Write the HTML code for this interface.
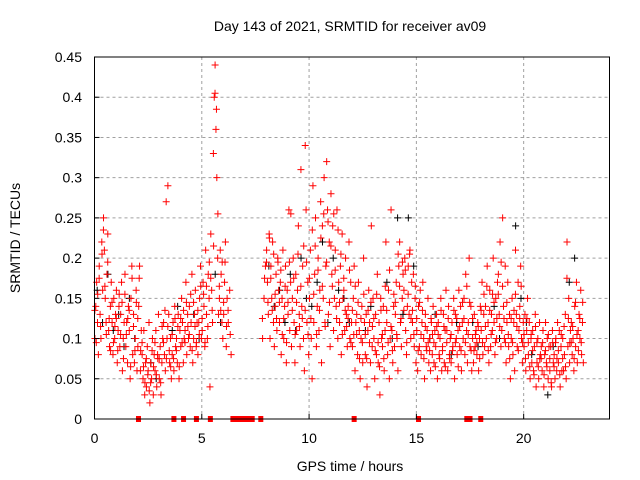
<!DOCTYPE html>
<html><head><meta charset="utf-8"><style>
body{margin:0;background:#fff}
svg{display:block;font-family:"Liberation Sans",sans-serif}
</style></head><body>
<svg id="chart" width="640" height="480" xmlns="http://www.w3.org/2000/svg">
<rect width="640" height="480" fill="#fff"/>
<g id="grid"></g>
<g id="marks"></g>
<rect x="94.5" y="57" width="515" height="362" fill="none" stroke="#000" stroke-width="1"/>
<g id="ticks"></g>
<text x="350" y="31" text-anchor="middle" font-size="14">Day 143 of 2021, SRMTID for receiver av09</text>
<text x="350" y="471" text-anchor="middle" font-size="14">GPS time / hours</text>
<text transform="translate(20,238) rotate(-90)" text-anchor="middle" font-size="14">SRMTID / TECUs</text>
</svg>
<script>
const xTicks=[0,5,10,15,20];
const yTicks=[0,0.05,0.1,0.15,0.2,0.25,0.3,0.35,0.4,0.45];
const yTickLabels=["0","0.05","0.1","0.15","0.2","0.25","0.3","0.35","0.4","0.45"];
const redBinStarts=[0,0.2,0.4,0.6,0.8,1.0,1.2,1.4,1.6,1.8,2.0,2.2,2.4,2.6,2.8,3.0,3.2,3.4,3.6,3.8,4.0,4.2,4.4,4.6,4.8,5.0,5.2,5.4,5.6,5.8,6.0,6.2,7.8,8.0,8.2,8.4,8.6,8.8,9.0,9.2,9.4,9.6,9.8,10.0,10.2,10.4,10.6,10.8,11.0,11.2,11.4,11.6,11.8,12.0,12.2,12.4,12.6,12.8,13.0,13.2,13.4,13.6,13.8,14.0,14.2,14.4,14.6,14.8,15.0,15.2,15.4,15.6,15.8,16.0,16.2,16.4,16.6,16.8,17.0,17.2,17.4,17.6,17.8,18.0,18.2,18.4,18.6,18.8,19.0,19.2,19.4,19.6,19.8,20.0,20.2,20.4,20.6,20.8,21.0,21.2,21.4,21.6,21.8,22.0,22.2,22.4,22.6];
const redBinValues=[
[.10,.14,.17,.12,.08],[.19,.13,.10,.22,.16],[.25,.21,.15,.12,.18],[.23,.11,.09,.14,.17],[.12,.08,.15,.10,.13],
[.16,.07,.11,.14,.09],[.13,.17,.06,.10,.12],[.18,.09,.12,.07,.14],[.11,.05,.15,.19,.08],[.13,.07,.10,.16,.06],
[.09,.14,.19,.06,.11],[.08,.05,.11,.03,.07],[.04,.09,.06,.12,.02],[.07,.05,.10,.03,.08],[.06,.11,.04,.08,.13],
[.05,.09,.03,.07,.10],[.12,.08,.06,.27,.10],[.29,.13,.07,.10,.05],[.08,.12,.06,.14,.09],[.10,.07,.13,.05,.11],
[.09,.15,.12,.07,.10],[.11,.17,.08,.13,.10],[.14,.09,.12,.18,.07],[.10,.13,.16,.09,.12],[.08,.12,.15,.19,.10],
[.11,.17,.14,.09,.21],[.13,.10,.18,.15,.04],[.23,.16,.12,.33,.40],[.44,.36,.30,.20,.13],[.15,.21,.18,.12,.10],
[.13,.17,.22,.09,.15],[.12,.16,.08],[.10,.15,.19],[.21,.17,.13,.23,.10],[.19,.15,.22,.12,.09],
[.14,.18,.11,.20,.16],[.12,.17,.08,.15,.21],[.10,.14,.19,.07,.16],[.13,.26,.11,.17,.09],[.15,.20,.12,.07,.18],
[.11,.16,.24,.13,.09],[.31,.14,.19,.10,.06],[.34,.26,.12,.17,.08],[.15,.21,.10,.05,.29],[.12,.18,.25,.09,.14],
[.20,.11,.16,.27,.07],[.24,.15,.30,.12,.19],[.32,.26,.13,.22,.09],[.28,.18,.24,.11,.15],[.21,.14,.26,.10,.17],
[.12,.19,.08,.23,.15],[.16,.11,.20,.13,.09],[.14,.22,.10,.17,.12],[.09,.15,.19,.06,.12],[.13,.08,.17,.11,.05],
[.10,.14,.07,.20,.12],[.08,.13,.04,.11,.16],[.12,.07,.24,.09,.15],[.10,.05,.13,.08,.18],[.07,.12,.03,.15,.10],
[.09,.14,.06,.11,.22],[.12,.08,.16,.05,.10],[.26,.11,.07,.14,.09],[.13,.17,.10,.06,.19],[.22,.12,.09,.15,.18],
[.16,.20,.11,.08,.14],[.19,.13,.21,.10,.17],[.12,.18,.09,.15,.07],[.11,.06,.14,.09,.16],[.08,.12,.17,.10,.05],
[.13,.09,.11,.15,.07],[.10,.06,.12,.08,.14],[.07,.11,.09,.13,.05],[.12,.08,.10,.15,.06],[.09,.13,.07,.11,.16],
[.11,.06,.14,.08,.10],[.07,.12,.09,.15,.05],[.13,.10,.08,.11,.16],[.09,.14,.06,.12,.10],[.15,.08,.18,.11,.07],
[.12,.20,.09,.14,.06],[.10,.07,.13,.09,.11],[.08,.12,.06,.10,.14],[.11,.17,.08,.13,.09],[.14,.10,.19,.12,.07],
[.16,.09,.13,.11,.20],[.12,.08,.15,.10,.17],[.18,.13,.22,.09,.11],[.25,.14,.10,.19,.07],[.12,.17,.09,.13,.05],
[.10,.15,.08,.12,.06],[.21,.13,.09,.17,.11],[.14,.19,.10,.07,.12],[.09,.13,.06,.11,.15],[.08,.12,.05,.10,.07],
[.11,.06,.09,.13,.04],[.07,.10,.05,.12,.08],[.09,.06,.11,.04,.08],[.12,.07,.10,.05,.09],[.06,.09,.04,.11,.07],
[.08,.05,.10,.06,.12],[.07,.11,.04,.09,.06],[.10,.06,.08,.13,.05],[.22,.09,.15,.07,.11],[.12,.08,.10,.06,.14],
[.09,.17,.07,.11,.13],[.10,.16,.08,.12,.07]];
const redBinValues2=[
[.135,.095,.155],[.175,.115,.205],[.235,.165,.105],[.195,.125,.085],[.145,.095,.115],
[.125,.085,.155],[.105,.145,.075],[.155,.105,.125],[.135,.065,.175],[.115,.085,.145],
[.125,.175,.085],[.095,.065,.045],[.075,.055,.035],[.045,.085,.065],[.095,.055,.075],
[.075,.045,.115],[.095,.135,.075],[.115,.085,.065],[.105,.075,.125],[.085,.115,.065],
[.125,.095,.135],[.095,.145,.115],[.105,.155,.085],[.145,.115,.095],[.135,.105,.165],
[.125,.155,.095],[.165,.115,.195],[.175,.135,.215],[.405,.385,.255],[.165,.135,.195],
[.145,.195,.115],[.135,.105],[.125,.175],[.195,.145,.225],[.175,.135,.205],
[.155,.125,.195],[.145,.185,.105],[.125,.165,.095],[.145,.195,.255],[.135,.175,.105],
[.145,.205,.115],[.165,.125,.215],[.135,.195,.105],[.175,.125,.235],[.155,.215,.105],
[.185,.135,.225],[.165,.255,.115],[.195,.245,.145],[.215,.165,.255],[.185,.125,.235],
[.145,.205,.105],[.175,.135,.115],[.125,.185,.095],[.135,.105,.165],[.105,.145,.075],
[.125,.095,.155],[.105,.075,.135],[.095,.145,.115],[.125,.085,.155],[.095,.065,.135],
[.105,.075,.165],[.135,.095,.185],[.115,.085,.155],[.145,.105,.205],[.165,.125,.195],
[.135,.185,.095],[.155,.205,.125],[.135,.105,.165],[.125,.085,.145],[.105,.135,.075],
[.115,.085,.095],[.085,.125,.105],[.095,.065,.115],[.105,.075,.135],[.085,.115,.065],
[.095,.125,.075],[.105,.085,.135],[.095,.125,.065],[.115,.085,.145],[.125,.095,.165],
[.105,.145,.085],[.125,.085,.105],[.095,.115,.075],[.135,.095,.155],[.115,.165,.085],
[.135,.105,.155],[.145,.095,.125],[.155,.115,.195],[.165,.125,.095],[.145,.105,.075],
[.125,.095,.135],[.155,.115,.085],[.125,.165,.095],[.105,.075,.125],[.095,.065,.105],
[.085,.055,.115],[.095,.065,.075],[.075,.095,.055],[.085,.065,.105],[.075,.045,.095],
[.065,.095,.075],[.085,.055,.105],[.075,.115,.065],[.175,.125,.095],[.095,.115,.075],
[.145,.105,.085],[.125,.095,.145]];
const blackBinStarts=[0,0.5,1.0,1.5,2.5,3.5,4.5,5.5,8.0,8.5,9.0,9.5,10.0,10.5,11.0,11.5,12.5,13.5,14.0,14.5,15.5,16.5,17.5,18.5,19.5,20.0,21.0,22.0];
const blackBinValues=[[.16,.12],[.18,.11],[.13,.09],[.15,.10],[.07,.05],[.11,.14],[.13,.10],[.18,.12],[.19,.14],[.16,.12],[.18,.11],[.20,.15],[.14,.17],[.22,.12],[.20,.16],[.15,.12],[.11,.14],[.17,.10],[.25,.13],[.25,.19],[.10,.13],[.08,.12],[.12,.09],[.14,.10],[.24,.15],[.12,.08],[.03,.09],[.17,.20]];
const gapHours=[2.05,3.7,4.15,4.75,5.4,6.45,6.6,6.75,6.9,7.05,7.2,7.35,7.75,12.1,15.1,17.35,17.5,18.0];
const NS='http://www.w3.org/2000/svg';
const X0=94.5,X1=609.5,Y0=419,Y1=57;
function xs(h){return X0+(X1-X0)*h/24;}
function ys(v){return Y0-(Y0-Y1)*v/0.45;}
function mk(t,a,p){const e=document.createElementNS(NS,t);for(const k in a)e.setAttribute(k,a[k]);p.appendChild(e);return e;}
const grid=document.getElementById('grid'),ticks=document.getElementById('ticks'),marks=document.getElementById('marks');
xTicks.forEach(h=>{
  const x=xs(h);
  if(h>0){const g=mk('line',{x1:x,x2:x,y1:Y1,y2:Y0,stroke:'#a0a0a0','stroke-dasharray':'3,3'},grid);
  
  }
  const t=mk('line',{x1:x,x2:x,y1:Y0,y2:Y0-5,stroke:'#000'},ticks);
  
  
  const l=mk('text',{x:x,y:443,'text-anchor':'middle','font-size':'14'},ticks);l.textContent=String(h);
  
  
});
yTicks.forEach((v,i)=>{
  const y=ys(v);
  if(i>0&&i<yTicks.length-1){const g=mk('line',{x1:X0,x2:X1,y1:y,y2:y,stroke:'#a0a0a0','stroke-dasharray':'3,3'},grid);
  
  }
  const t=mk('line',{x1:X0,x2:X0+5,y1:y,y2:y,stroke:'#000'},ticks);
  
  
  const l=mk('text',{x:82,y:y+5,'text-anchor':'end','font-size':'14'},ticks);l.textContent=yTickLabels[i];
  
  
});
function plus(h,v,color,name){
  const x=xs(h),y=ys(v);
  const p=mk('path',{d:`M${x-3.5},${y}h7M${x},${y-3.5}v7`,stroke:color,'stroke-width':'1',fill:'none'},marks);
  
  
}
blackBinStarts.forEach((h,i)=>{const vals=blackBinValues[i];vals.forEach((v,j)=>plus(h+0.5*(j+0.5)/vals.length,v,'#000','black-point'));});
redBinStarts.forEach((h,i)=>{const vals=redBinValues[i];vals.forEach((v,j)=>plus(h+0.2*(j+0.5)/vals.length,v,'#f00','red-point'));});
redBinStarts.forEach((h,i)=>{const vals=redBinValues2[i]||[];vals.forEach((v,j)=>plus(h+0.2*(j+0.25)/vals.length,v,'#f00','red-point'));});
gapHours.forEach(h=>{
  const r=mk('rect',{x:xs(h)-2.5,y:Y0-3,width:5,height:6,fill:'#f00'},marks);
  
  
});
</script>
</body></html>
